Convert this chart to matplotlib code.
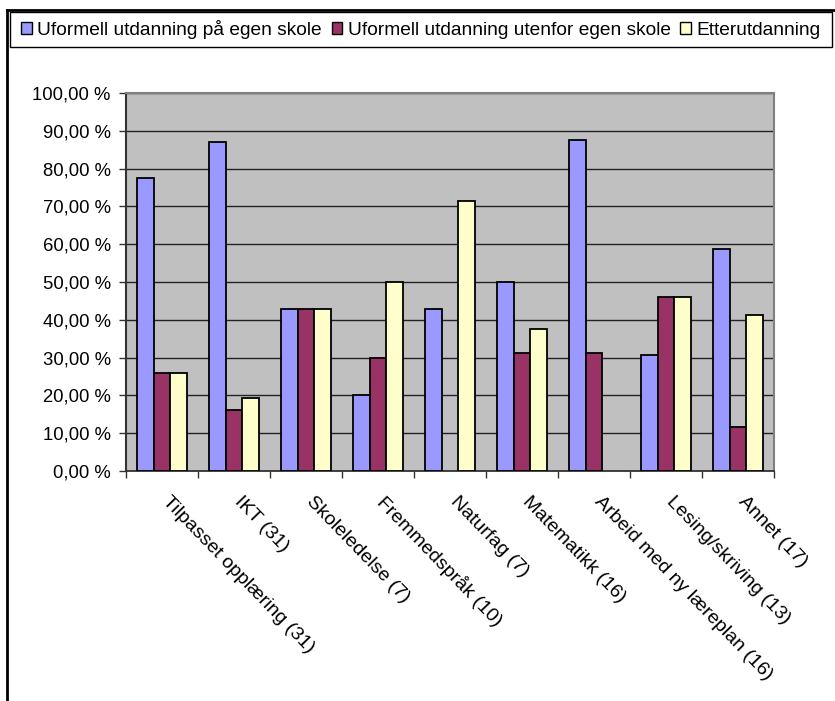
import numpy as np
import matplotlib
matplotlib.use("Agg")
from matplotlib import pyplot as plt
from matplotlib.patches import Rectangle
from matplotlib.lines import Line2D

plt.rcParams['font.family'] = ['Liberation Sans', 'DejaVu Sans']

kategorier = ['Tilpasset opplæring (31)', 'IKT (31)', 'Skoleledelse (7)',
              'Fremmedspråk (10)', 'Naturfag (7)', 'Matematikk (16)',
              'Arbeid med ny læreplan (16)', 'Lesing/skriving (13)', 'Annet (17)']
egen_skole = [77.42, 87.10, 42.86, 20.00, 42.86, 50.00, 87.50, 30.77, 58.82]
utenfor_skole = [25.81, 16.13, 42.86, 30.00, 0.0, 31.25, 31.25, 46.15, 11.76]
etterutdanning = [25.81, 19.35, 42.86, 50.00, 71.43, 37.50, 0.0, 46.15, 41.18]
serier = ['Uformell utdanning på egen skole', 'Uformell utdanning utenfor egen skole',
          'Etterutdanning']
farger = ['#9999FF', '#993366', '#FFFFCC']
y_ticks = np.arange(0, 101, 10)
y_labels = ['%.2f %%' % v for v in y_ticks]
y_labels = [s.replace('.', ',') for s in y_labels]

W, H = 835, 701
fig = plt.figure(figsize=(W / 100, H / 100), dpi=100)
ax = fig.add_axes([126 / W, 1 - 471 / H, (774 - 126) / W, (471 - 93) / H])
ax.set_facecolor('#C0C0C0')

x = np.arange(len(kategorier))
b = 0.228
for i, (vals, f) in enumerate(zip([egen_skole, utenfor_skole, etterutdanning], farger)):
    hoyder = np.array(vals)
    vis = hoyder > 0
    ax.bar(x[vis] + (i - 1) * b, hoyder[vis], width=b, color=f,
           edgecolor='black', linewidth=1.3, zorder=3)

ax.set_xlim(-0.5, len(kategorier) - 0.5)
ax.set_ylim(0, 100)
ax.set_yticks(y_ticks)
ax.set_yticklabels(y_labels, fontsize=13.3)
ax.yaxis.grid(True, color='#222222', linewidth=1, zorder=1)
ax.tick_params(axis='y', length=5, width=1, color='#333333', pad=6)

ax.set_xticks(np.arange(-0.5, len(kategorier)), minor=False)
ax.set_xticklabels([])
ax.tick_params(axis='x', length=5, width=1, color='#333333', direction='out')
for xi, lab in zip(x, kategorier):
    ax.annotate(lab, (xi, 0), xytext=(6.5, -16), textcoords='offset points',
                rotation=-46, ha='left', va='top', rotation_mode='anchor',
                fontsize=14, annotation_clip=False)

for s in ['top', 'right']:
    ax.spines[s].set_color('#808080')
    ax.spines[s].set_linewidth(1.5)
ax.spines['left'].set_color('#333333')
ax.spines['left'].set_linewidth(1.5)
ax.spines['bottom'].set_color('#333333')
ax.spines['bottom'].set_linewidth(1.3)

# ytre ramme og legendeboks
fig.add_artist(Line2D([7 / W, 7 / W], [0, 1 - 10 / H], color='black', lw=2, transform=fig.transFigure))
fig.add_artist(Line2D([7 / W, 1], [1 - 10 / H, 1 - 10 / H], color='black', lw=2, transform=fig.transFigure))
fig.add_artist(Rectangle((10 / W, 1 - 47 / H), 822 / W, 35 / H, fill=False,
                         edgecolor='black', lw=1, transform=fig.transFigure))

handles = [Rectangle((0, 0), 1, 1, facecolor=f, edgecolor='black', lw=1) for f in farger]
fig.legend(handles, serier, loc='center', bbox_to_anchor=(421 / W, 1 - 29.5 / H),
           ncol=3, frameon=False, fontsize=13.8, handlelength=0.55, handleheight=0.55,
           handletextpad=0.3, columnspacing=0.5, borderpad=0)

fig.savefig('out.png', dpi=100)
